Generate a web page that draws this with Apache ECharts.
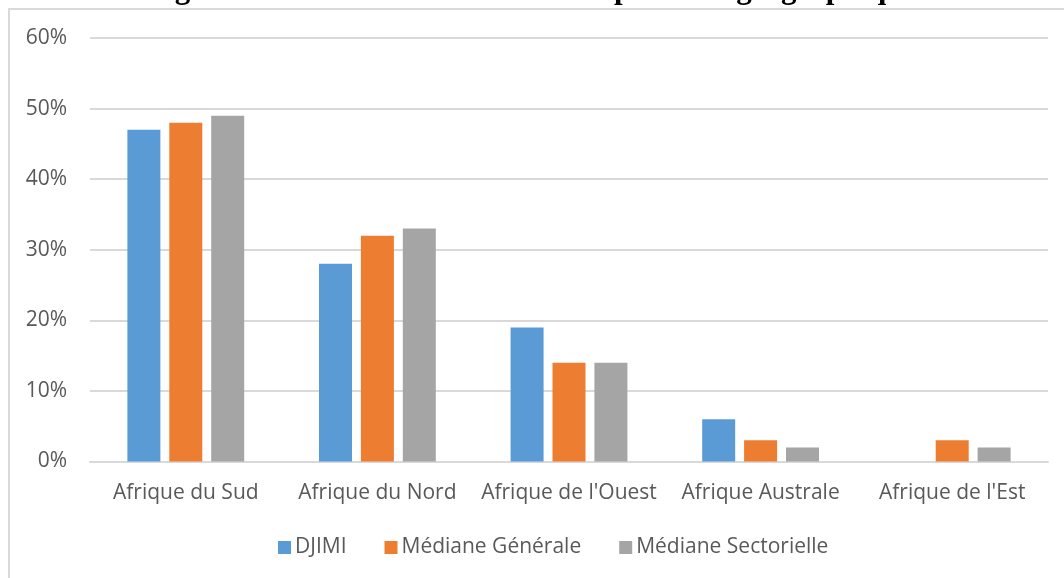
<!DOCTYPE html>
<html>
<head>
<meta charset="utf-8">
<script src="https://cdn.jsdelivr.net/npm/echarts@6/dist/echarts.min.js"></script>
<style>
  html, body { margin: 0; padding: 0; background: #ffffff; }
  #chart { width: 1064px; height: 578px; }
</style>
</head>
<body>
<div id="chart"></div>
<script>
// Regions and series (shares of listed companies, %)
const categories = ["Afrique du Sud", "Afrique du Nord", "Afrique de l'Ouest", "Afrique Australe", "Afrique de l'Est"];
const djimi = [47, 28, 19, 6, 0];
const medianeGenerale = [48, 32, 14, 3, 3];
const medianeSectorielle = [49, 33, 14, 2, 2];
const seriesNames = ["DJIMI", "Médiane Générale", "Médiane Sectorielle"];
const titleText = "Figure 2 : Listes des sociétés cotées par zone géographique.";

const labelFont = "'Open Sans', sans-serif";
const labelColor = '#595959';
const gridColor = '#d9d9d9';

const chart = echarts.init(document.getElementById('chart'), null, { renderer: 'canvas' });

function barSeries(name, data, color) {
  return {
    name: name,
    type: 'bar',
    data: data,
    barWidth: 33,
    barGap: '27%',
    itemStyle: { color: color },
    emphasis: { disabled: true }
  };
}

chart.setOption({
  animation: false,
  backgroundColor: '#ffffff',
  color: ['#5B9BD5', '#ED7D31', '#A5A5A5'],
  graphic: [
    {
      type: 'rect',
      silent: true,
      z: -10,
      shape: { x: 9, y: 9, width: 1200, height: 700 },
      style: { fill: '#ffffff', stroke: gridColor, lineWidth: 2 }
    },
    {
      type: 'text',
      silent: true,
      x: 536,
      y: 5,
      style: {
        text: titleText,
        font: "bold 31px 'Liberation Serif', 'Times New Roman', serif",
        fill: '#000000',
        align: 'center',
        verticalAlign: 'bottom'
      }
    }
  ],
  grid: { left: 90, right: 16, top: 38, bottom: 116.5, containLabel: false },
  legend: {
    data: seriesNames,
    left: 273,
    top: 532,
    icon: 'rect',
    itemWidth: 13,
    itemHeight: 13,
    itemGap: 38,
    textStyle: { fontFamily: labelFont, fontSize: 21, color: labelColor, padding: [0, 0, 0, -1] }
  },
  xAxis: {
    type: 'category',
    data: categories,
    axisLine: { lineStyle: { color: gridColor, width: 2 } },
    axisTick: { show: false },
    axisLabel: { fontFamily: labelFont, fontSize: 21, color: labelColor, margin: 21, interval: 0 }
  },
  yAxis: {
    type: 'value',
    min: 0,
    max: 60,
    interval: 10,
    axisLine: { show: false },
    axisTick: { show: false },
    axisLabel: { fontFamily: labelFont, fontSize: 21, color: labelColor, margin: 23, formatter: '{value}%' },
    splitLine: { lineStyle: { color: gridColor, width: 2 } }
  },
  series: [
    barSeries(seriesNames[0], djimi, '#5B9BD5'),
    barSeries(seriesNames[1], medianeGenerale, '#ED7D31'),
    barSeries(seriesNames[2], medianeSectorielle, '#A5A5A5')
  ]
});
</script>
</body>
</html>
